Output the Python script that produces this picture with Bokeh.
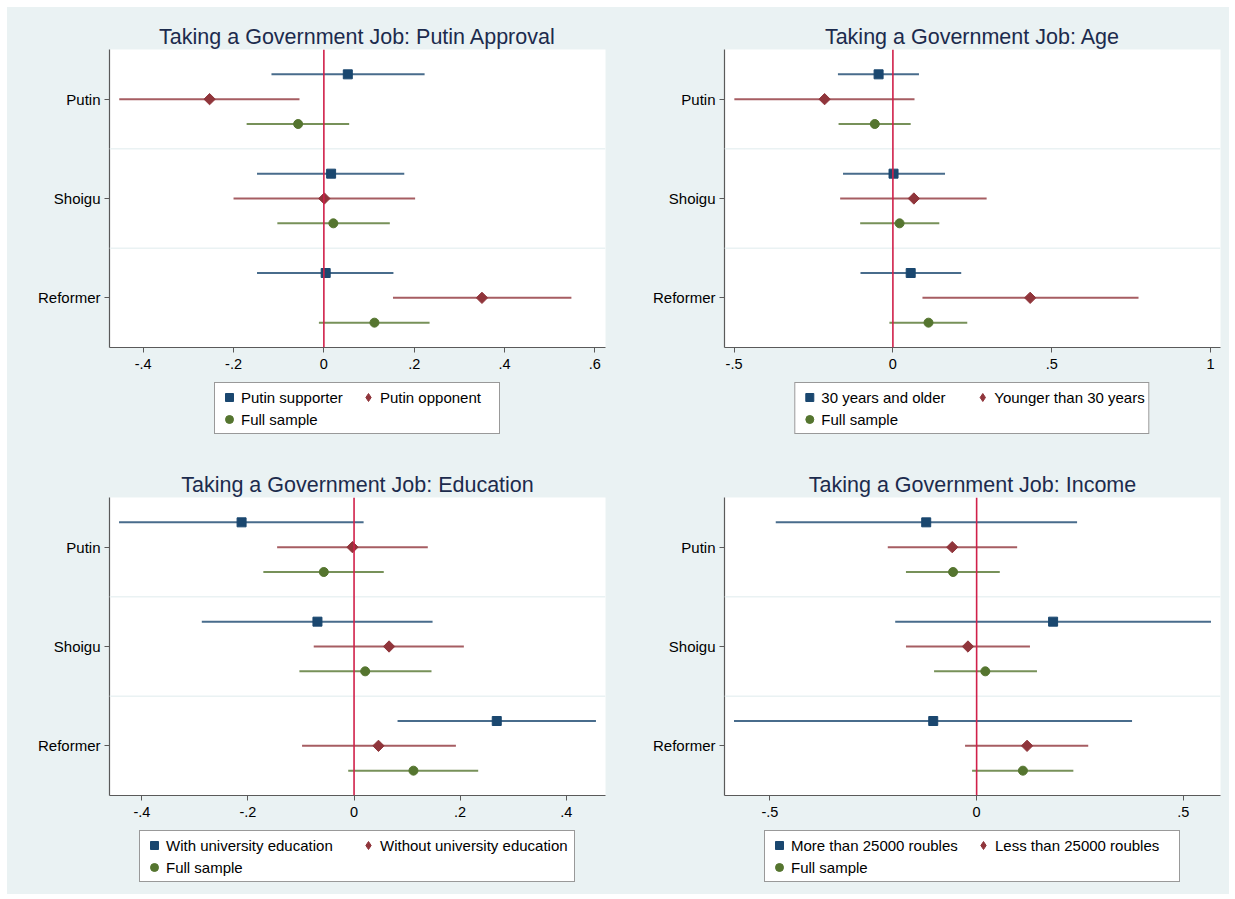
import numpy as np
from bokeh.plotting import figure
from bokeh.models import Range1d, FixedTicker, Span, Legend, LegendItem
from bokeh.layouts import column, row
from bokeh.embed import file_html
from bokeh.resources import INLINE

categories = ["Putin", "Shoigu", "Reformer"]

# Full sample (same in every panel)
full_est = [-0.057, 0.021, 0.112]
full_lo = [-0.171, -0.103, -0.011]
full_hi = [0.056, 0.146, 0.234]

# Panel 1: Putin approval
supporter_est = [0.053, 0.016, 0.004]
supporter_lo = [-0.116, -0.148, -0.148]
supporter_hi = [0.223, 0.178, 0.154]
opponent_est = [-0.253, 0.001, 0.350]
opponent_lo = [-0.453, -0.200, 0.153]
opponent_hi = [-0.054, 0.202, 0.548]

# Panel 2: Age
older_est = [-0.045, 0.002, 0.056]
older_lo = [-0.173, -0.157, -0.102]
older_hi = [0.082, 0.164, 0.215]
younger_est = [-0.215, 0.066, 0.432]
younger_lo = [-0.499, -0.166, 0.093]
younger_hi = [0.068, 0.295, 0.773]

# Panel 3: Education
univ_est = [-0.212, -0.069, 0.269]
univ_lo = [-0.443, -0.287, 0.082]
univ_hi = [0.018, 0.148, 0.456]
nouniv_est = [-0.003, 0.066, 0.046]
nouniv_lo = [-0.145, -0.076, -0.098]
nouniv_hi = [0.139, 0.207, 0.192]

# Panel 4: Income
rich_est = [-0.122, 0.185, -0.105]
rich_lo = [-0.486, -0.197, -0.587]
rich_hi = [0.243, 0.567, 0.376]
poor_est = [-0.059, -0.021, 0.122]
poor_lo = [-0.215, -0.171, -0.028]
poor_hi = [0.098, 0.129, 0.270]

titles = ["Taking a Government Job: Putin Approval", "Taking a Government Job: Age",
          "Taking a Government Job: Education", "Taking a Government Job: Income"]
group_labels = [["Putin supporter", "Putin opponent", "Full sample"],
                ["30 years and older", "Younger than 30 years", "Full sample"],
                ["With university education", "Without university education", "Full sample"],
                ["More than 25000 roubles", "Less than 25000 roubles", "Full sample"]]
x_ticks = [[-0.4, -0.2, 0, 0.2, 0.4, 0.6], [-0.5, 0, 0.5, 1],
           [-0.4, -0.2, 0, 0.2, 0.4], [-0.5, 0, 0.5]]
x_tick_labels = [["-.4", "-.2", "0", ".2", ".4", ".6"], ["-.5", "0", ".5", "1"],
                 ["-.4", "-.2", "0", ".2", ".4"], ["-.5", "0", ".5"]]
x_limits = [(-0.4746, 0.6235), (-0.530, 1.031), (-0.461, 0.474), (-0.610, 0.590)]

panel_series = [
    [(supporter_est, supporter_lo, supporter_hi), (opponent_est, opponent_lo, opponent_hi), (full_est, full_lo, full_hi)],
    [(older_est, older_lo, older_hi), (younger_est, younger_lo, younger_hi), (full_est, full_lo, full_hi)],
    [(univ_est, univ_lo, univ_hi), (nouniv_est, nouniv_lo, nouniv_hi), (full_est, full_lo, full_hi)],
    [(rich_est, rich_lo, rich_hi), (poor_est, poor_lo, poor_hi), (full_est, full_lo, full_hi)],
]

COLORS = ["#1a476f", "#90353b", "#55752f"]
MARKERS = ["square", "square", "circle"]
LEGEND_MARKERS = ["square", "diamond", "circle"]
ANGLES = [0.0, np.pi / 4, 0.0]
SIZES = [9, 8, 9]
OFFSETS = [-0.25, 0.0, 0.25]
BG = "#eaf2f3"
FONT = "Liberation Sans"

FRAME_W, FRAME_H = 496, 298
AXIS_SPACE = 33
# right border, bottom border per panel
borders = [(17, 108), (9, 108), (17, 99), (9, 99)]
# legend label widths (column widths) per panel
label_widths = [115, 149, 190, 180]
BOX_STYLE = {"background-color": BG}


def make_panel(i):
    br, bb = borders[i]
    p = figure(frame_width=FRAME_W, frame_height=FRAME_H, output_backend="svg", toolbar_location=None,
               x_range=Range1d(*x_limits[i]), y_range=Range1d(3.5, 0.5),
               min_border_left=102, min_border_top=42, min_border_bottom=AXIS_SPACE,
               min_border_right=br)
    p.border_fill_color = BG
    p.background_fill_color = "white"
    p.outline_line_color = None
    p.xgrid.visible = False
    p.ygrid.visible = False

    p.title.text = titles[i]
    p.title.align = "center"
    p.title.text_font = FONT
    p.title.text_font_size = "21.5px"
    p.title.text_font_style = "normal"
    p.title.text_color = "#1c2b4d"
    p.title.standoff = 2

    for loc in (1.5, 2.5):
        p.add_layout(Span(location=loc, dimension="width", line_color=BG, line_width=1.5))
    p.add_layout(Span(location=0, dimension="height", line_color="#d0204a", line_width=1.6))

    # legend panel (separate figure placed under the plot)
    lg = figure(frame_width=FRAME_W, frame_height=bb - AXIS_SPACE, output_backend="svg",
                toolbar_location=None, x_axis_type=None, y_axis_type=None,
                x_range=Range1d(*x_limits[i]), y_range=Range1d(3.5, 0.5),
                min_border_left=102, min_border_right=br, min_border_top=0, min_border_bottom=0)
    lg.border_fill_color = BG
    lg.background_fill_color = BG
    lg.outline_line_color = None
    lg.grid.visible = False

    items = []
    cat_pos = [1, 2, 3]
    for g, (est, lo, hi) in enumerate(panel_series[i]):
        ys = [c + OFFSETS[g] for c in cat_pos]
        p.segment(x0=lo, y0=ys, x1=hi, y1=ys, line_color=COLORS[g], line_width=2, line_alpha=0.8)
        p.scatter(x=est, y=ys, marker=MARKERS[g], angle=ANGLES[g], size=SIZES[g],
                  fill_color=COLORS[g], line_color=COLORS[g])
        key = lg.scatter(x=est, y=ys, marker=LEGEND_MARKERS[g], size=SIZES[g],
                         fill_color=COLORS[g], line_color=COLORS[g], visible=False)
        items.append(LegendItem(label=group_labels[i][g], renderers=[key]))

    p.xaxis.ticker = FixedTicker(ticks=x_ticks[i])
    p.xaxis.major_label_overrides = {t: l for t, l in zip(x_ticks[i], x_tick_labels[i])}
    p.yaxis.ticker = FixedTicker(ticks=cat_pos)
    p.yaxis.major_label_overrides = {k: c for k, c in zip(cat_pos, categories)}
    for ax in (p.xaxis[0], p.yaxis[0]):
        ax.axis_line_color = "#5a5a5a"
        ax.axis_line_width = 1.2
        ax.major_tick_line_color = "#5a5a5a"
        ax.major_tick_in = 0
        ax.major_tick_out = 5
        ax.minor_tick_line_color = None
        ax.major_label_text_font = FONT
        ax.major_label_text_color = "black"
    p.xaxis.major_label_text_font_size = "14.5px"
    p.xaxis.major_label_standoff = 6
    p.yaxis.major_label_text_font_size = "15px"
    p.yaxis.major_label_standoff = 4

    legend = Legend(items=items, orientation="horizontal", ncols=2, location="top_center",
                    label_text_font=FONT, label_text_font_size="15px", label_text_color="black",
                    border_line_color="#333333", border_line_width=1,
                    background_fill_color="white", background_fill_alpha=1,
                    padding=4, spacing=2, margin=2, glyph_width=20, glyph_height=20,
                    label_height=20, label_width=label_widths[i], label_standoff=2)
    lg.add_layout(legend, "center")
    return column(p, lg, styles=BOX_STYLE)


panels = [make_panel(i) for i in range(4)]
layout = column(row(panels[0], panels[1], styles=BOX_STYLE),
                row(panels[2], panels[3], styles=BOX_STYLE),
                margin=(7, 0, 0, 7), styles=BOX_STYLE)
open("out.html", "w").write(file_html(layout, INLINE))
